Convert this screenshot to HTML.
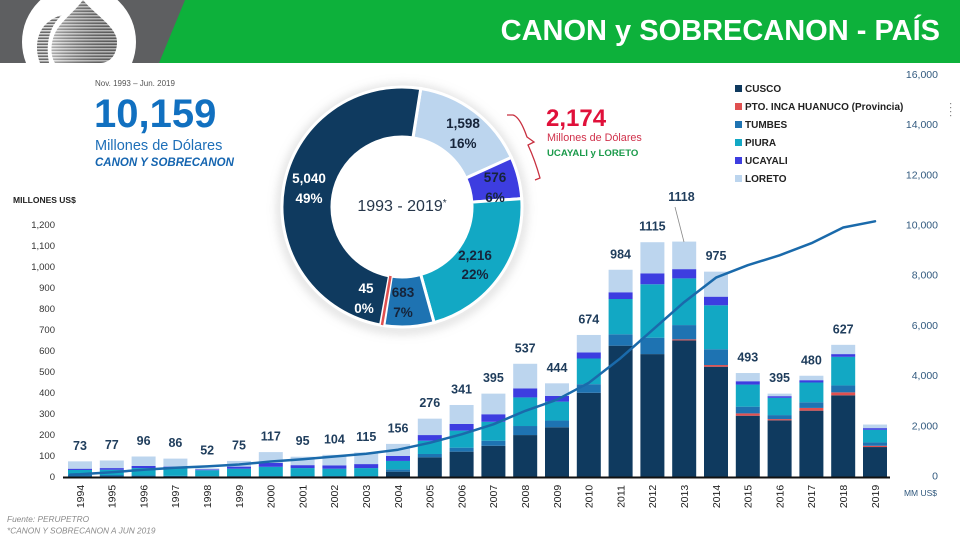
<!DOCTYPE html>
<html><head><meta charset="utf-8">
<style>
html,body{margin:0;padding:0;background:#fff;}
body{width:960px;height:539px;overflow:hidden;position:relative;font-family:"Liberation Sans",Arial,sans-serif;}
svg{position:absolute;left:0;top:0;}
.c{fill:#0f3a5f}.r{fill:#e05050}.t{fill:#1e73b2}.p{fill:#12a8c4}.u{fill:#3d3de0}.l{fill:#bcd5ee}
.yl{font-size:10.5px;fill:#222;text-anchor:middle}
.vl{font-size:12.5px;font-weight:bold;fill:#1f3d5c;text-anchor:middle}
.la{font-size:9.5px;fill:#333;text-anchor:end}
.ra{font-size:10.5px;fill:#31597e;text-anchor:end}
.lg{font-size:10px;font-weight:bold;fill:#222}
.dk{font-size:13.5px;font-weight:bold;fill:#16243a;text-anchor:middle}
.wt{font-size:13.5px;font-weight:bold;fill:#fff;text-anchor:middle}
</style></head>
<body>
<svg width="960" height="539" viewBox="0 0 960 539" xmlns="http://www.w3.org/2000/svg">
<defs>
<pattern id="stripes" width="4" height="3" patternUnits="userSpaceOnUse">
<rect width="4" height="3" fill="#d8d8d8"/><rect y="1.5" width="4" height="1.5" fill="#6a6a6a"/>
</pattern>
<linearGradient id="dropg" x1="0" x2="1" y1="0" y2="0">
<stop offset="0" stop-color="#fff" stop-opacity="0.45"/><stop offset="1" stop-color="#000" stop-opacity="0.15"/>
</linearGradient>
<filter id="glow" x="-20%" y="-20%" width="140%" height="140%"><feGaussianBlur stdDeviation="5"/></filter>
<clipPath id="hdr"><rect x="0" y="0" width="960" height="63"/></clipPath>
</defs>

<!-- header -->
<rect x="0" y="0" width="960" height="63" fill="#0db13b"/>
<polygon points="0,0 185,0 159,63 0,63" fill="#5e5f61"/>
<g clip-path="url(#hdr)">
<circle cx="79" cy="42" r="57" fill="#fff"/>
<path d="M83,0 C95,15 117,27 117,42 C117,55 110,63 100,63 L55,63 C50,55 50,40 58,28 C65,18 76,10 83,0 Z" fill="url(#stripes)"/>
<path d="M83,0 C95,15 117,27 117,42 C117,55 110,63 100,63 L55,63 C50,55 50,40 58,28 C65,18 76,10 83,0 Z" fill="url(#dropg)"/>
<path d="M40,63 C35,50 36,35 45,25 C50,20 55,17 62,15 C51,25 45,40 49,63 Z" fill="url(#stripes)"/>
</g>
<text x="940" y="40" font-size="29" font-weight="bold" fill="#fff" text-anchor="end">CANON y SOBRECANON - PAÍS</text>

<!-- top-left totals -->
<text x="95" y="86" font-size="8" fill="#555">Nov. 1993 – Jun. 2019</text>
<text x="94" y="127" font-size="40" font-weight="bold" fill="#1170c0">10,159</text>
<text x="95" y="150" font-size="14.5" fill="#1e6fb8">Millones de Dólares</text>
<text x="95" y="166" font-size="11.5" font-weight="bold" font-style="italic" fill="#1565b0">CANON Y SOBRECANON</text>

<!-- donut -->
<circle cx="402" cy="209" r="121" fill="none" stroke="#999" stroke-opacity="0.45" stroke-width="6" filter="url(#glow)"/>
<g stroke="#fff" stroke-width="3">
<path class="l" d="M420.77,88.48 A120,120 0 0 1 511.28,157.43 L465.75,178.08 A70,70 0 0 0 412.95,137.86 Z"/>
<path class="u" d="M511.28,157.43 A120,120 0 0 1 521.71,198.63 L471.83,202.11 A70,70 0 0 0 465.75,178.08 Z"/>
<path class="p" d="M521.71,198.63 A120,120 0 0 1 434.07,322.63 L420.71,274.45 A70,70 0 0 0 471.83,202.11 Z"/>
<path class="t" d="M434.07,322.63 A120,120 0 0 1 383.85,325.62 L391.41,276.2 A70,70 0 0 0 420.71,274.45 Z"/>
<path class="c" d="M380.54,325.07 A120,120 0 0 1 420.77,88.48 L412.95,137.86 A70,70 0 0 0 389.48,275.87 Z"/>
</g>
<line x1="382" y1="325" x2="390.5" y2="276" stroke="#e05050" stroke-width="2.5"/>
<text x="402" y="211" font-size="16" fill="#26364a" text-anchor="middle">1993 - 2019<tspan font-size="10" dy="-5">*</tspan></text>
<text class="dk" x="463" y="128">1,598</text><text class="dk" x="463" y="148">16%</text>
<text class="dk" x="495" y="182">576</text><text class="dk" x="495" y="202">6%</text>
<text class="dk" x="475" y="260">2,216</text><text class="dk" x="475" y="279">22%</text>
<text class="dk" x="403" y="297">683</text><text class="dk" x="403" y="317">7%</text>
<text class="wt" x="366" y="293">45</text><text class="wt" x="364" y="313">0%</text>
<text class="wt" x="309" y="183">5,040</text><text class="wt" x="309" y="203">49%</text>

<!-- brace and 2,174 -->
<path d="M507,115 L513,115 Q520,117 527,137 L534,142 L528,145 Q535,160 540,178 L535,180" fill="none" stroke="#c83040" stroke-width="1.3"/>
<text x="546" y="126" font-size="24" font-weight="bold" fill="#e0103a">2,174</text>
<text x="547" y="141" font-size="10.8" fill="#d0304a">Millones de Dólares</text>
<text x="547" y="156" font-size="9.6" font-weight="bold" fill="#1a9a4a">UCAYALI y LORETO</text>

<!-- legend -->
<rect x="735" y="85" width="7" height="7" class="c"/><text class="lg" x="745" y="92">CUSCO</text>
<rect x="735" y="103" width="7" height="7" class="r"/><text class="lg" x="745" y="110">PTO. INCA HUANUCO (Provincia)</text>
<rect x="735" y="121" width="7" height="7" class="t"/><text class="lg" x="745" y="128">TUMBES</text>
<rect x="735" y="139" width="7" height="7" class="p"/><text class="lg" x="745" y="146">PIURA</text>
<rect x="735" y="157" width="7" height="7" class="u"/><text class="lg" x="745" y="164">UCAYALI</text>
<rect x="735" y="175" width="7" height="7" class="l"/><text class="lg" x="745" y="182">LORETO</text>
<g fill="#888"><rect x="950" y="103" width="1.2" height="1.2"/><rect x="950" y="107" width="1.2" height="1.2"/><rect x="950" y="111" width="1.2" height="1.2"/><rect x="950" y="115" width="1.2" height="1.2"/></g>

<!-- left axis -->
<text x="13" y="203" font-size="8.5" font-weight="bold" fill="#222">MILLONES US$</text>
<g class="la">
<text x="55" y="480.2">0</text><text x="55" y="459.2">100</text><text x="55" y="438.1">200</text><text x="55" y="417.1">300</text>
<text x="55" y="396.1">400</text><text x="55" y="375.1">500</text><text x="55" y="354">600</text><text x="55" y="333">700</text>
<text x="55" y="312">800</text><text x="55" y="290.9">900</text><text x="55" y="269.9">1,000</text><text x="55" y="248.9">1,100</text>
<text x="55" y="227.8">1,200</text>
</g>
<!-- right axis -->
<g class="ra">
<text x="938" y="479.5">0</text><text x="938" y="429.3">2,000</text><text x="938" y="379.1">4,000</text><text x="938" y="328.9">6,000</text>
<text x="938" y="278.7">8,000</text><text x="938" y="228.5">10,000</text><text x="938" y="178.3">12,000</text><text x="938" y="128.1">14,000</text>
<text x="938" y="77.9">16,000</text>
</g>
<text x="937" y="496" font-size="8.5" fill="#31597e" text-anchor="end">MM US$</text>

<!-- bars -->
<g transform="translate(0,476.7) scale(1,-0.2103)">
<rect x="68" width="24" y="0" height="10" class="t"/><rect x="68" width="24" y="10" height="22" class="p"/><rect x="68" width="24" y="32" height="6" class="u"/><rect x="68" width="24" y="38" height="35" class="l"/>
<rect x="99.8" width="24" y="0" height="8" class="t"/><rect x="99.8" width="24" y="8" height="25" class="p"/><rect x="99.8" width="24" y="33" height="8" class="u"/><rect x="99.8" width="24" y="41" height="36" class="l"/>
<rect x="131.6" width="24" y="0" height="6" class="t"/><rect x="131.6" width="24" y="6" height="35" class="p"/><rect x="131.6" width="24" y="41" height="10" class="u"/><rect x="131.6" width="24" y="51" height="45" class="l"/>
<rect x="163.4" width="24" y="0" height="4" class="t"/><rect x="163.4" width="24" y="4" height="40" class="p"/><rect x="163.4" width="24" y="44" height="4" class="u"/><rect x="163.4" width="24" y="48" height="38" class="l"/>
<rect x="195.2" width="24" y="0" height="2" class="t"/><rect x="195.2" width="24" y="2" height="29" class="p"/><rect x="195.2" width="24" y="31" height="4" class="u"/><rect x="195.2" width="24" y="35" height="5" class="l"/>
<rect x="227" width="24" y="0" height="3" class="t"/><rect x="227" width="24" y="3" height="35" class="p"/><rect x="227" width="24" y="38" height="10" class="u"/><rect x="227" width="24" y="48" height="27" class="l"/>
<rect x="258.8" width="24" y="0" height="3" class="t"/><rect x="258.8" width="24" y="3" height="44" class="p"/><rect x="258.8" width="24" y="47" height="19" class="u"/><rect x="258.8" width="24" y="66" height="51" class="l"/>
<rect x="290.6" width="24" y="0" height="3" class="t"/><rect x="290.6" width="24" y="3" height="38" class="p"/><rect x="290.6" width="24" y="41" height="14" class="u"/><rect x="290.6" width="24" y="55" height="40" class="l"/>
<rect x="322.4" width="24" y="0" height="3" class="t"/><rect x="322.4" width="24" y="3" height="35" class="p"/><rect x="322.4" width="24" y="38" height="16" class="u"/><rect x="322.4" width="24" y="54" height="50" class="l"/>
<rect x="354.2" width="24" y="0" height="3" class="t"/><rect x="354.2" width="24" y="3" height="38" class="p"/><rect x="354.2" width="24" y="41" height="19" class="u"/><rect x="354.2" width="24" y="60" height="55" class="l"/>
<rect x="386" width="24" y="0" height="24" class="c"/><rect x="386" width="24" y="24" height="11" class="t"/><rect x="386" width="24" y="35" height="40" class="p"/><rect x="386" width="24" y="75" height="24" class="u"/><rect x="386" width="24" y="99" height="57" class="l"/>
<rect x="417.8" width="24" y="0" height="92" class="c"/><rect x="417.8" width="24" y="92" height="16" class="t"/><rect x="417.8" width="24" y="108" height="63" class="p"/><rect x="417.8" width="24" y="171" height="27" class="u"/><rect x="417.8" width="24" y="198" height="78" class="l"/>
<rect x="449.6" width="24" y="0" height="119" class="c"/><rect x="449.6" width="24" y="119" height="19" class="t"/><rect x="449.6" width="24" y="138" height="81" class="p"/><rect x="449.6" width="24" y="219" height="32" class="u"/><rect x="449.6" width="24" y="251" height="90" class="l"/>
<rect x="481.4" width="24" y="0" height="147" class="c"/><rect x="481.4" width="24" y="147" height="24" class="t"/><rect x="481.4" width="24" y="171" height="90" class="p"/><rect x="481.4" width="24" y="261" height="36" class="u"/><rect x="481.4" width="24" y="297" height="98" class="l"/>
<rect x="513.2" width="24" y="0" height="198" class="c"/><rect x="513.2" width="24" y="198" height="43" class="t"/><rect x="513.2" width="24" y="241" height="136" class="p"/><rect x="513.2" width="24" y="377" height="43" class="u"/><rect x="513.2" width="24" y="420" height="117" class="l"/>
<rect x="545" width="24" y="0" height="235" class="c"/><rect x="545" width="24" y="235" height="32" class="t"/><rect x="545" width="24" y="267" height="90" class="p"/><rect x="545" width="24" y="357" height="27" class="u"/><rect x="545" width="24" y="384" height="60" class="l"/>
<rect x="576.8" width="24" y="0" height="399" class="c"/><rect x="576.8" width="24" y="399" height="41" class="t"/><rect x="576.8" width="24" y="440" height="122" class="p"/><rect x="576.8" width="24" y="562" height="29" class="u"/><rect x="576.8" width="24" y="591" height="83" class="l"/>
<rect x="608.6" width="24" y="0" height="623" class="c"/><rect x="608.6" width="24" y="623" height="54" class="t"/><rect x="608.6" width="24" y="677" height="168" class="p"/><rect x="608.6" width="24" y="845" height="32" class="u"/><rect x="608.6" width="24" y="877" height="107" class="l"/>
<rect x="640.4" width="24" y="0" height="583" class="c"/><rect x="640.4" width="24" y="583" height="78" class="t"/><rect x="640.4" width="24" y="661" height="254" class="p"/><rect x="640.4" width="24" y="915" height="52" class="u"/><rect x="640.4" width="24" y="967" height="148" class="l"/>
<rect x="672.2" width="24" y="0" height="648" class="c"/><rect x="672.2" width="24" y="648" height="5" class="r"/><rect x="672.2" width="24" y="653" height="68" class="t"/><rect x="672.2" width="24" y="721" height="222" class="p"/><rect x="672.2" width="24" y="943" height="44" class="u"/><rect x="672.2" width="24" y="987" height="131" class="l"/>
<rect x="704" width="24" y="0" height="523" class="c"/><rect x="704" width="24" y="523" height="8" class="r"/><rect x="704" width="24" y="531" height="75" class="t"/><rect x="704" width="24" y="606" height="209" class="p"/><rect x="704" width="24" y="815" height="41" class="u"/><rect x="704" width="24" y="856" height="119" class="l"/>
<rect x="735.8" width="24" y="0" height="290" class="c"/><rect x="735.8" width="24" y="290" height="11" class="r"/><rect x="735.8" width="24" y="301" height="32" class="t"/><rect x="735.8" width="24" y="333" height="105" class="p"/><rect x="735.8" width="24" y="438" height="16" class="u"/><rect x="735.8" width="24" y="454" height="39" class="l"/>
<rect x="767.6" width="24" y="0" height="268" class="c"/><rect x="767.6" width="24" y="268" height="6" class="r"/><rect x="767.6" width="24" y="274" height="19" class="t"/><rect x="767.6" width="24" y="293" height="82" class="p"/><rect x="767.6" width="24" y="375" height="8" class="u"/><rect x="767.6" width="24" y="383" height="12" class="l"/>
<rect x="799.4" width="24" y="0" height="314" class="c"/><rect x="799.4" width="24" y="314" height="13" class="r"/><rect x="799.4" width="24" y="327" height="27" class="t"/><rect x="799.4" width="24" y="354" height="94" class="p"/><rect x="799.4" width="24" y="448" height="11" class="u"/><rect x="799.4" width="24" y="459" height="21" class="l"/>
<rect x="831.2" width="24" y="0" height="387" class="c"/><rect x="831.2" width="24" y="387" height="14" class="r"/><rect x="831.2" width="24" y="401" height="33" class="t"/><rect x="831.2" width="24" y="434" height="136" class="p"/><rect x="831.2" width="24" y="570" height="13" class="u"/><rect x="831.2" width="24" y="583" height="44" class="l"/>
<rect x="863" width="24" y="0" height="141" class="c"/><rect x="863" width="24" y="141" height="6" class="r"/><rect x="863" width="24" y="147" height="16" class="t"/><rect x="863" width="24" y="163" height="60" class="p"/><rect x="863" width="24" y="223" height="8" class="u"/><rect x="863" width="24" y="231" height="17" class="l"/>
</g>

<!-- x axis -->
<line x1="63" y1="477.5" x2="890" y2="477.5" stroke="#111" stroke-width="2"/>

<!-- cumulative line -->
<polyline fill="none" stroke="#1a6aab" stroke-width="2.5" stroke-linejoin="round" stroke-linecap="round"
points="70,474.6 80,474.2 111.8,472.2 143.6,469.8 175.4,467.7 207.2,466.4 239,464.5 270.8,461.5 302.6,459.2 334.4,456.5 366.2,453.7 398,449.7 429.8,442.8 461.6,434.3 493.4,424.3 525.2,410.9 557,399.7 588.8,382.8 620.6,358.1 652.4,330.1 684.2,302.1 716,277.6 747.8,265.2 779.6,255.3 811.4,243.2 843.2,227.5 875,221.3"/>

<!-- value labels -->
<g class="vl">
<text x="80" y="449.9">73</text><text x="111.8" y="449">77</text><text x="143.6" y="445">96</text><text x="175.4" y="447.1">86</text>
<text x="207.2" y="454.5">52</text><text x="239" y="449.4">75</text><text x="270.8" y="440.6">117</text><text x="302.6" y="445.2">95</text>
<text x="334.4" y="443.3">104</text><text x="366.2" y="441">115</text><text x="398" y="432.4">156</text><text x="429.8" y="407.2">276</text>
<text x="461.6" y="393.5">341</text><text x="493.4" y="382.1">395</text><text x="525.2" y="352.3">537</text><text x="557" y="371.8">444</text>
<text x="588.8" y="323.5">674</text><text x="620.6" y="258.3">984</text><text x="652.4" y="230.7">1115</text><text x="681.5" y="201.2">1118</text>
<text x="716" y="260.2">975</text><text x="747.8" y="361.5">493</text><text x="779.6" y="382.1">395</text><text x="811.4" y="364.3">480</text>
<text x="843.2" y="333.3">627</text>
</g>
<line x1="675" y1="207" x2="684" y2="242" stroke="#888" stroke-width="0.8"/>

<!-- year labels -->
<g class="yl">
<text transform="translate(83.8,496.5) rotate(-90)">1994</text>
<text transform="translate(115.6,496.5) rotate(-90)">1995</text>
<text transform="translate(147.4,496.5) rotate(-90)">1996</text>
<text transform="translate(179.2,496.5) rotate(-90)">1997</text>
<text transform="translate(211,496.5) rotate(-90)">1998</text>
<text transform="translate(242.8,496.5) rotate(-90)">1999</text>
<text transform="translate(274.6,496.5) rotate(-90)">2000</text>
<text transform="translate(306.4,496.5) rotate(-90)">2001</text>
<text transform="translate(338.2,496.5) rotate(-90)">2002</text>
<text transform="translate(370,496.5) rotate(-90)">2003</text>
<text transform="translate(401.8,496.5) rotate(-90)">2004</text>
<text transform="translate(433.6,496.5) rotate(-90)">2005</text>
<text transform="translate(465.4,496.5) rotate(-90)">2006</text>
<text transform="translate(497.2,496.5) rotate(-90)">2007</text>
<text transform="translate(529,496.5) rotate(-90)">2008</text>
<text transform="translate(560.8,496.5) rotate(-90)">2009</text>
<text transform="translate(592.6,496.5) rotate(-90)">2010</text>
<text transform="translate(624.4,496.5) rotate(-90)">2011</text>
<text transform="translate(656.2,496.5) rotate(-90)">2012</text>
<text transform="translate(688,496.5) rotate(-90)">2013</text>
<text transform="translate(719.8,496.5) rotate(-90)">2014</text>
<text transform="translate(751.6,496.5) rotate(-90)">2015</text>
<text transform="translate(783.4,496.5) rotate(-90)">2016</text>
<text transform="translate(815.2,496.5) rotate(-90)">2017</text>
<text transform="translate(847,496.5) rotate(-90)">2018</text>
<text transform="translate(878.8,496.5) rotate(-90)">2019</text>
</g>

<!-- footer -->
<text x="7" y="522" font-size="8.3" font-style="italic" fill="#8a8a8a">Fuente: PERUPETRO</text>
<text x="7" y="533.5" font-size="8.3" font-style="italic" fill="#8a8a8a">*CANON Y SOBRECANON A JUN 2019</text>
</svg>
</body></html>
